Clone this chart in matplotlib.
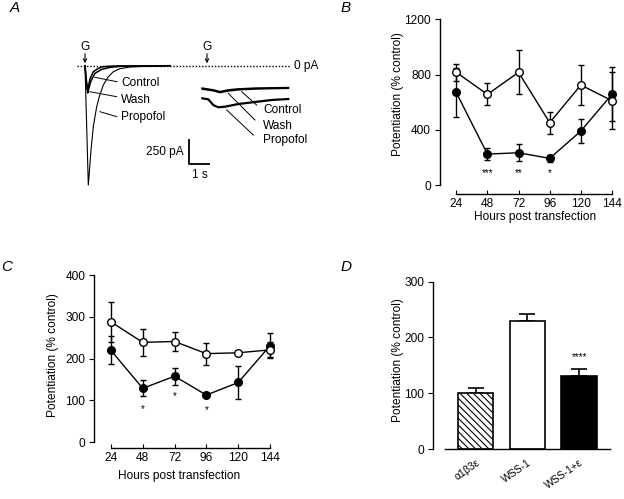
import matplotlib
matplotlib.use("Agg")
import matplotlib.pyplot as plt

plt.rcParams.update({"font.family": ["Liberation Sans", "DejaVu Sans"], "font.size": 8.6,
                     "axes.linewidth": 1.0, "hatch.linewidth": 0.8})

# ---- panel A: current traces, time (s) after G, current (pA)
T_CTRL_L = [0, 0.065, 0.125, 0.175, 0.25, 0.415, 0.665, 0.9, 1.5, 4.25]
I_CTRL_L = [0, -143, -253, -211, -138, -63, -27, -10, -3, 0]
T_WASH_L = [0, 0.065, 0.135, 0.185, 0.285, 0.5, 0.835, 1.25, 1.75, 2.75, 4.25]
I_WASH_L = [0, -164, -284, -243, -166, -79, -38, -17, -6, -3, 0]
T_PROP_L = [0, 0.075, 0.165, 0.225, 0.30, 0.415, 0.585, 0.715, 0.915, 1.165, 1.415, 1.75, 2.25, 3.0, 4.25]
I_PROP_L = [0, -566, -1243, -1087, -878, -636, -427, -323, -201, -115, -63, -31, -14, -6, 0]
T_RIGHT = [5.865, 6.415, 6.75, 7.165, 7.665, 8.5, 10.165]
I_CTRL_R = [-235, -253, -271, -253, -243, -235, -229]
I_WASH_R = [-243, -260, -279, -262, -250, -241, -234]
T_PROP_R = [5.865, 6.165, 6.415, 6.665, 7.0, 7.665, 8.5, 9.335, 10.165]
I_PROP_R = [-340, -350, -410, -433, -427, -399, -378, -357, -347]

# ---- panels B and C
HOURS = [24, 48, 72, 96, 120, 144]
B_OPEN = [817, 657, 817, 452, 725, 611]
B_OPEN_ERR = [60, 80, 160, 80, 145, 205]
B_FILL = [671, 224, 234, 193, 391, 658]
B_FILL_ERR = [180, 45, 60, 25, 85, 195]
B_STAR_X = [48, 72, 96]
B_STARS = ["***", "**", "*"]
B_STAR_Y = [88, 88, 88]

C_OPEN = [288, 239, 241, 212, 214, 221]
C_OPEN_ERR = [47, 33, 22, 26, 0, 18]
C_FILL = [220, 129, 158, 113, 143, 231]
C_FILL_ERR = [33, 19, 20, 0, 40, 30]
C_STAR_X = [48, 72, 96]
C_STARS = ["*", "*", "*"]
C_STAR_Y = [80, 110, 76]

# ---- panel D
D_LABELS = ["\u03b11\u03b23\u03b5", "WSS-1", "WSS-1+\u03b5"]
D_VALUES = [101, 229, 131]
D_ERR = [9, 13, 12]

fig = plt.figure(figsize=(6.24, 4.99), dpi=100)

# ===================== A
ax = fig.add_axes([60 / 624, 1 - 200 / 499, 260 / 624, 170 / 499])
ax.set_xlim(-1.25, 11.75)
ax.set_ylim(-1399, 372)
ax.axis("off")
ax.plot([-0.4, 10.25], [0, 0], color="k", lw=1, ls=(0, (1, 1.3)))
ax.text(10.45, 0, "0 pA", va="center", ha="left")
ax.plot(T_PROP_L, I_PROP_L, color="k", lw=0.8)
ax.plot(T_WASH_L, I_WASH_L, color="k", lw=1.1)
ax.plot(T_CTRL_L, I_CTRL_L, color="k", lw=1.1)
ax.plot(T_RIGHT, I_CTRL_R, color="k", lw=1.3)
ax.plot(T_RIGHT, I_WASH_R, color="k", lw=1.3)
ax.plot(T_PROP_R, I_PROP_R, color="k", lw=1.6)
for tg in [0, 6.1]:
    ax.text(tg, 190, "G", ha="center", va="center")
    ax.annotate("", xy=(tg, 25), xytext=(tg, 125),
                arrowprops=dict(arrowstyle="->", lw=0.8, color="k", mutation_scale=6,
                                shrinkA=0, shrinkB=0))
# labels with leader lines
for (x0, y0, x1, y1), lab, ty in [((0.5, -121, 1.6, -167), "Control", -180),
                                  ((0.25, -271, 1.585, -323), "Wash", -357),
                                  ((0.75, -479, 1.585, -531), "Propofol", -535)]:
    ax.plot([x0, x1], [y0, y1], color="k", lw=0.7)
    ax.text(1.8, ty, lab, ha="left", va="center")
for (x0, y0, x1, y1), lab, ty in [((7.835, -271, 8.585, -410), "Control", -462),
                                  ((7.165, -288, 8.5, -566), "Wash", -625),
                                  ((7.085, -461, 8.415, -722), "Propofol", -774)]:
    ax.plot([x0, x1], [y0, y1], color="k", lw=0.7)
    ax.text(8.915, ty, lab, ha="left", va="center")
# scale bar 250 pA / 1 s
ax.plot([5.2, 5.2, 6.2], [-774, -1024, -1024], color="k", lw=1.3)
ax.text(4.95, -896, "250 pA", ha="right", va="center")
ax.text(5.75, -1136, "1 s", ha="center", va="center")


def time_panel(ax, op, ope, fi, fie, sx, st, sy, ymax, yticks, off):
    ax.errorbar(HOURS, fi, yerr=fie, fmt="-o", color="k", mfc="k", mec="k", ms=5.5,
                lw=1, elinewidth=1, capsize=2, zorder=3)
    ax.errorbar(HOURS, op, yerr=ope, fmt="-o", color="k", mfc="white", mec="k", ms=5.5,
                mew=1, lw=1, elinewidth=1, capsize=2, zorder=4)
    for x, s, y in zip(sx, st, sy):
        ax.text(x, y, s, ha="center", va="center", fontsize=7)
    ax.set_xlim(HOURS[0] - 12.5, 150)
    ax.set_ylim(0, ymax)
    ax.set_yticks(yticks)
    ax.set_xticks(HOURS)
    for s in ["top", "right"]:
        ax.spines[s].set_visible(False)
    ax.spines["bottom"].set_position(("outward", off))
    ax.spines["bottom"].set_bounds(HOURS[0], HOURS[-1])
    ax.tick_params(axis="x", direction="in", length=3, pad=3)
    ax.tick_params(axis="y", direction="out", length=3.5, pad=3)
    ax.set_ylabel("Potentiation (% control)")
    ax.set_xlabel("Hours post transfection")


# ===================== B
axb = fig.add_axes([440 / 624, 1 - 185 / 499, 179.8 / 624, 165.5 / 499])
time_panel(axb, B_OPEN, B_OPEN_ERR, B_FILL, B_FILL_ERR, B_STAR_X, B_STARS, B_STAR_Y,
           1200, [0, 400, 800, 1200], 6.5)
axb.yaxis.set_label_coords(-0.20, 0.55)
axb.xaxis.set_label_coords(0.528, -0.16)

# ===================== C
axc = fig.add_axes([94.3 / 624, 1 - 442.3 / 499, 183.7 / 624, 167.3 / 499])
time_panel(axc, C_OPEN, C_OPEN_ERR, C_FILL, C_FILL_ERR, C_STAR_X, C_STARS, C_STAR_Y,
           400, [0, 100, 200, 300, 400], 3.8)
axc.yaxis.set_label_coords(-0.19, 0.52)
axc.xaxis.set_label_coords(0.464, -0.165)

# ===================== D
axd = fig.add_axes([433 / 624, 1 - 449 / 499, 177 / 624, 167.3 / 499])
xs = range(len(D_VALUES))
bars = axd.bar(xs, D_VALUES, width=0.69, color=["white", "white", "black"],
               edgecolor="k", lw=1.2, zorder=2)
bars[0].set_hatch("\\\\\\\\\\")
axd.errorbar(xs, D_VALUES, yerr=[[0] * len(D_ERR), D_ERR], fmt="none", ecolor="k",
             elinewidth=1.2, capsize=6, capthick=1.2, zorder=1)
axd.text(2, 164, "****", ha="center", va="center", fontsize=7)
axd.set_xlim(-0.82, 2.59)
axd.set_ylim(0, 300)
axd.set_yticks([0, 100, 200, 300])
axd.set_xticks(list(xs))
axd.set_xticklabels(D_LABELS, rotation=35, ha="right", rotation_mode="anchor", fontsize=7.5)
axd.tick_params(axis="x", length=0, pad=6)
axd.tick_params(axis="y", direction="out", length=3.5, pad=3)
for s in ["top", "right"]:
    axd.spines[s].set_visible(False)
axd.spines["bottom"].set_bounds(-0.59, 2.59)
axd.set_ylabel("Potentiation (% control)")
axd.yaxis.set_label_coords(-0.164, 0.534)

# panel letters
for x, y, s in [(15, 8, "A"), (346, 8, "B"), (7, 267, "C"), (346, 267, "D")]:
    fig.text(x / 624, 1 - y / 499, s, ha="center", va="center", fontsize=11, style="italic")

fig.savefig("out.png", dpi=100, facecolor="white")
